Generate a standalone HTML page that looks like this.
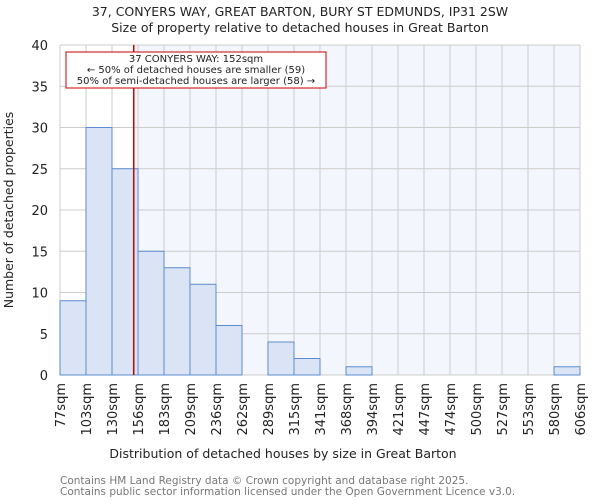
<!DOCTYPE html>
<html><head><meta charset="utf-8"><style>
body{margin:0;background:#fff;font-family:"DejaVu Sans","Liberation Sans",sans-serif}
svg text{font-family:"DejaVu Sans","Liberation Sans",sans-serif}
</style></head><body>
<svg id="c" width="600" height="500" xmlns="http://www.w3.org/2000/svg">
<text x="300" y="16" text-anchor="middle" font-size="12.5" fill="#222">37, CONYERS WAY, GREAT BARTON, BURY ST EDMUNDS, IP31 2SW</text>
<text x="300" y="32" text-anchor="middle" font-size="12.5" fill="#222">Size of property relative to detached houses in Great Barton</text>
<g id="plot"></g>
<text x="283" y="458" text-anchor="middle" font-size="12.5" fill="#222">Distribution of detached houses by size in Great Barton</text>
<text transform="translate(13,210) rotate(-90)" text-anchor="middle" font-size="12.5" fill="#222">Number of detached properties</text>
<text x="60" y="484" font-size="10.5" fill="#777">Contains HM Land Registry data © Crown copyright and database right 2025.</text>
<text x="60" y="495" font-size="10.5" fill="#777">Contains public sector information licensed under the Open Government Licence v3.0.</text>
</svg>
<script>
const binEdges=[77,103,130,156,183,209,236,262,289,315,341,368,394,421,447,474,500,527,553,580,606];
const counts=[9,30,25,15,13,11,6,0,4,2,0,1,0,0,0,0,0,0,0,1];
const yTicks=[0,5,10,15,20,25,30,35,40];
const propertySize=152;
const NS="http://www.w3.org/2000/svg";
const L=60,R=580,T=45,B=375;
const nb=counts.length;
function xi(i){return L+(R-L)*i/nb;}
function xv(v){return L+(v-binEdges[0])/(binEdges[nb]-binEdges[0])*(R-L);}
function y(v){return B-(B-T)*v/40;}
const g=document.getElementById('plot');
function mk(t,a,p){const e=document.createElementNS(NS,t);for(const k in a)e.setAttribute(k,a[k]);(p||g).appendChild(e);return e;}
const px=xv(propertySize);
let e=mk('rect',{x:px,y:T,width:R-px,height:B-T,fill:'#f4f6fd'});


for(let i=0;i<=nb;i++){e=mk('line',{x1:xi(i),x2:xi(i),y1:T,y2:B,stroke:'#ccc','stroke-width':1});

}
yTicks.forEach(t=>{e=mk('line',{x1:L,x2:R,y1:y(t),y2:y(t),stroke:'#ccc','stroke-width':1});


e=mk('text',{x:L-12,y:y(t)+5,'text-anchor':'end','font-size':13,fill:'#222'});e.textContent=t;

});
counts.forEach((c,i)=>{if(c<=0)return;
e=mk('rect',{x:xi(i),y:y(c),width:xi(i+1)-xi(i),height:B-y(c),fill:'#dbe4f4',stroke:'#5b8bd0','stroke-width':1});

});
binEdges.forEach((b,i)=>{const x=xi(i);
e=mk('text',{transform:`translate(${x+5},${B+8}) rotate(-90)`,'text-anchor':'end','font-size':13,fill:'#222'});e.textContent=b+'sqm';

});
e=mk('line',{x1:px,x2:px,y1:T,y2:B,stroke:'#cc0000','stroke-width':1.5});


e=mk('rect',{x:66,y:52,width:260,height:36,fill:'#fff',stroke:'#cc0000','stroke-width':1});


['37 CONYERS WAY: 152sqm','← 50% of detached houses are smaller (59)','50% of semi-detached houses are larger (58) →'].forEach((s,i)=>{
e=mk('text',{x:196,y:62+i*11,'text-anchor':'middle','font-size':10,fill:'#222'});e.textContent=s;

});
</script>
</body></html>
